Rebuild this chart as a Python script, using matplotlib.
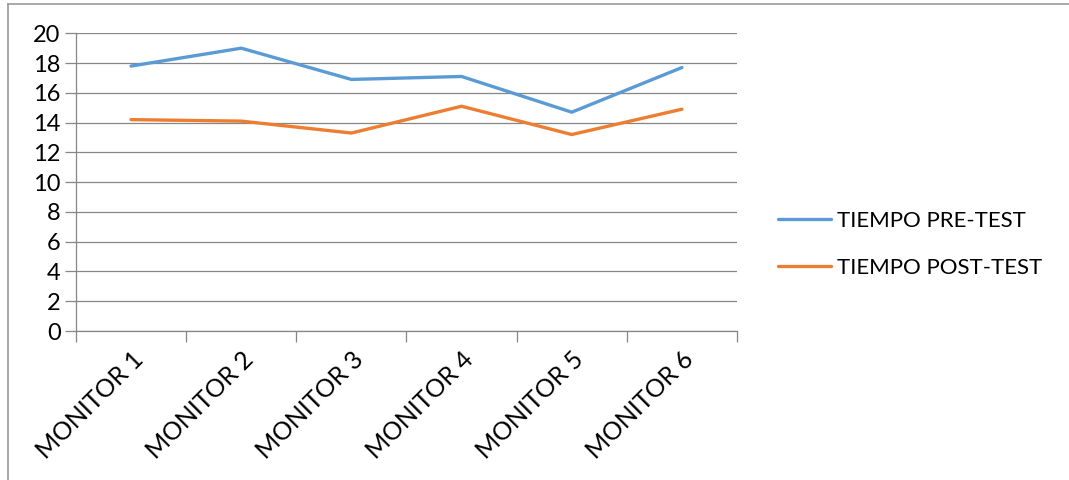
import matplotlib.pyplot as plt
import numpy as np

monitores = ['MONITOR 1', 'MONITOR 2', 'MONITOR 3', 'MONITOR 4', 'MONITOR 5', 'MONITOR 6']
pre_test = [17.8, 19.0, 16.9, 17.1, 14.7, 17.7]
post_test = [14.2, 14.1, 13.3, 15.1, 13.2, 14.9]
y_ticks = [0, 2, 4, 6, 8, 10, 12, 14, 16, 18, 20]

plt.rcParams['font.family'] = ['Lato', 'DejaVu Sans']

fig = plt.figure(figsize=(10.69, 4.8), dpi=100)
ax = fig.add_axes([76 / 1069, 149 / 480, 661 / 1069, 297.7 / 480])

x = np.arange(len(monitores))
ax.plot(x, pre_test, color='#5B9BD5', lw=2.4, label='TIEMPO PRE-TEST', solid_capstyle='round')
ax.plot(x, post_test, color='#ED7D31', lw=2.4, label='TIEMPO POST-TEST', solid_capstyle='round')

ax.set_xlim(-0.5, len(monitores) - 0.5)
ax.set_ylim(0, 20)
ax.set_yticks(y_ticks)
ax.yaxis.grid(True, color='#868686', lw=0.9)
ax.set_axisbelow(True)

# category boundaries get tick marks, centres get the labels
ax.set_xticks(np.arange(-0.5, len(monitores), 1.0))
ax.set_xticklabels([])
ax.set_xticks(x, minor=True)
ax.set_xticklabels(monitores, minor=True, rotation=45, ha='right', rotation_mode='anchor', fontsize=18)
ax.tick_params(axis='x', which='minor', length=0, pad=12)
ax.tick_params(axis='x', which='major', length=8, color='#868686', width=0.9)
ax.tick_params(axis='y', length=8, color='#868686', width=0.9, labelsize=17, pad=3)

for side in ['top', 'right']:
    ax.spines[side].set_visible(False)
for side in ['left', 'bottom']:
    ax.spines[side].set_color('#868686')
    ax.spines[side].set_linewidth(0.9)

fig.legend(loc='upper left', bbox_to_anchor=(758 / 1069, 1 - 191 / 480), frameon=False,
           fontsize=16, handlelength=2.4, labelspacing=1.2, handletextpad=0.25)

# chart border (only left and top edges show in the crop)
fig.add_artist(plt.Line2D([8 / 1069, 8 / 1069], [0, 1 - 4 / 480], color='#9a9a9a', lw=1.2))
fig.add_artist(plt.Line2D([8 / 1069, 1], [1 - 4 / 480, 1 - 4 / 480], color='#9a9a9a', lw=1.2))

fig.savefig('out.png', dpi=100)
